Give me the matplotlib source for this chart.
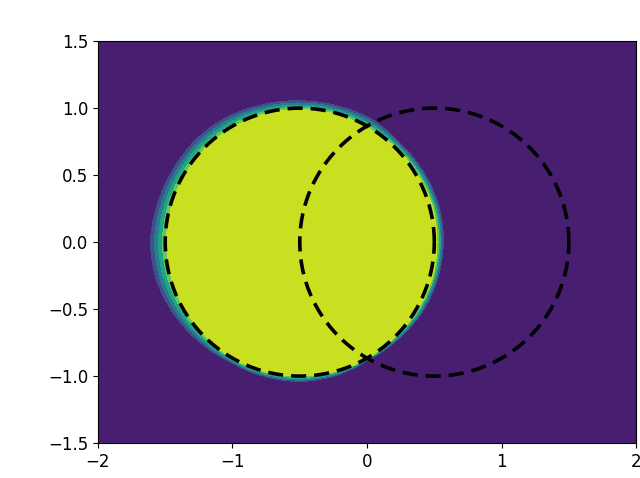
import numpy as np
import matplotlib
matplotlib.use("Agg")
import matplotlib.pyplot as plt

# outer edge of the coloured blob and edge of the yellow part, read per angle
# (angle in degrees around the centre of the left circle)
angles_deg = [0, 15, 30, 45, 60, 75, 90, 105, 120, 135, 150, 165,
              180, 195, 210, 225, 240, 255, 270, 285, 300, 315, 330, 345]
r_outer = [1.08, 1.08, 1.07, 1.06, 1.08, 1.07, 1.07, 1.08, 1.10, 1.11, 1.11, 1.12,
           1.14, 1.13, 1.10, 1.07, 1.04, 1.045, 1.05, 1.04, 1.02, 1.035, 1.06, 1.07]
r_inner = [1.02, 1.02, 1.01, 1.00, 0.99, 0.99, 0.99, 0.99, 0.99, 0.99, 0.99, 0.99,
           0.99, 0.99, 0.99, 0.99, 1.00, 1.00, 1.00, 1.00, 1.00, 1.00, 1.01, 1.02]

# the two dashed circles
circle_cx = [-0.5, 0.5]
circle_cy = [0.0, 0.0]
circle_r = [1.0, 1.0]

xticks = [-2, -1, 0, 1, 2]
yticks = [-1.5, -1.0, -0.5, 0.0, 0.5, 1.0, 1.5]

n_bands = 6

fig = plt.figure(figsize=(6.4, 4.78), dpi=100)
ax = fig.add_axes([0.153, 0.073, 0.841, 0.841])

# grid for the field
x = np.linspace(-2, 2, 400)
y = np.linspace(-1.5, 1.5, 300)
X, Y = np.meshgrid(x, y)
dx = X - circle_cx[0]
dy = Y - circle_cy[0]
r = np.hypot(dx, dy)
th = np.degrees(np.arctan2(dy, dx)) % 360

a = np.array(angles_deg + [360])
ro = np.interp(th, a, r_outer + [r_outer[0]])
ri = np.interp(th, a, r_inner + [r_inner[0]])
top = (n_bands - 1) / n_bands
Z = np.clip((ro - r) / (ro - ri) * top, 0, 1)

ax.contourf(X, Y, Z, levels=np.linspace(0, 1, n_bands + 1), cmap="viridis")

t = np.linspace(0, 2 * np.pi, 400)
for cx, cy, rr in zip(circle_cx, circle_cy, circle_r):
    ax.plot(cx + rr * np.cos(t), cy + rr * np.sin(t), color="k",
            lw=2.6, linestyle=(0, (4.2, 2.2)))

ax.set_xlim(-2, 2)
ax.set_ylim(-1.5, 1.5)
ax.set_xticks(xticks)
ax.set_yticks(yticks)
ax.tick_params(labelsize=12)

fig.savefig("out.png", dpi=100)
